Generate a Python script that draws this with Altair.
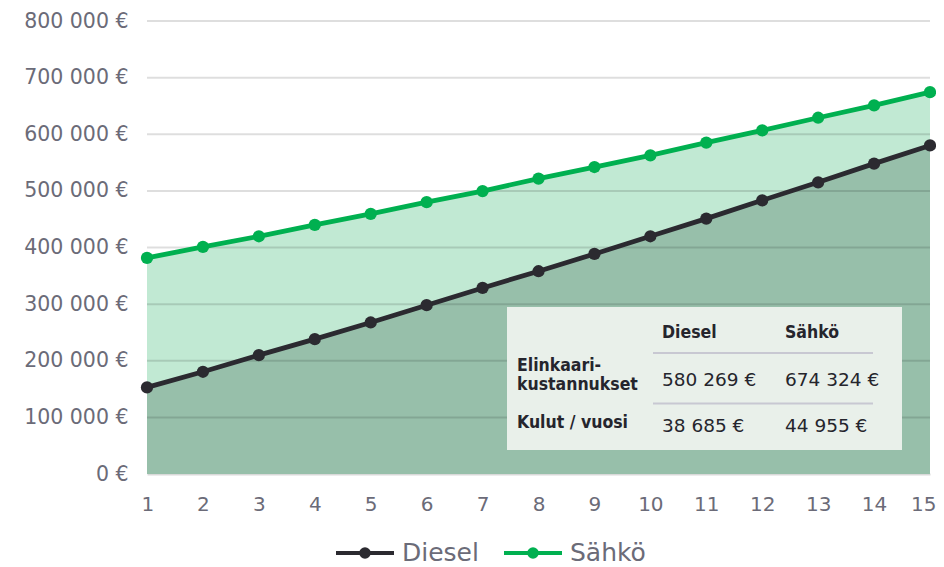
import altair as alt
import pandas as pd

years = list(range(1, 16))
diesel = [152900, 180500, 209900, 238100, 267600, 298100, 328600, 358100,
          388600, 419800, 451000, 483300, 515100, 548100, 580269]
sahko = [381600, 401000, 419800, 440000, 459500, 480000, 499700, 521600,
         542100, 562700, 585100, 606800, 629200, 650900, 674324]
series_names = ["Diesel", "Sähkö"]
y_ticks = [100000, 200000, 300000, 400000, 500000, 600000, 700000, 800000]
table_cols = ["Diesel", "Sähkö"]
row1_label = ["Elinkaari-", "kustannukset"]
row2_label = "Kulut / vuosi"
lifecycle = ["580 269 €", "674 324 €"]
per_year = ["38 685 €", "44 955 €"]

line_colors = ["#2b2a30", "#00b050"]
area_dark = "#97bfaa"
area_light = "#c1e9d3"
axis_gray = "#6b6b78"
txt_dark = "#25252d"
W, H = 783, 453

df = pd.DataFrame({
    "year": years * 2,
    "value": diesel + sahko,
    "series": [series_names[0]] * 15 + [series_names[1]] * 15,
})
df_d = df[df.series == "Diesel"]
df_s = df[df.series == "Sähkö"]

xenc = alt.X("year:Q", scale=alt.Scale(domain=[1, 15], nice=False, zero=False),
             axis=alt.Axis(values=years, format="d", title=None, ticks=False, grid=False,
                           domainColor="#d9d9d9", domainWidth=2, labelPadding=20,
                           labelFlush=True, labelFlushOffset=6, labelBound=False,
                           labelOverlap=False,
                           labelFontSize=20, labelFont="DejaVu Sans", labelColor=axis_gray))
yenc = alt.Y("value:Q", scale=alt.Scale(domain=[0, 800000], nice=False),
             axis=alt.Axis(values=[0] + y_ticks, title=None, ticks=False, domain=False, grid=False,
                           labelPadding=19, labelFontSize=20.5, labelFont="DejaVu Sans",
                           labelColor=axis_gray, labelFlush=False,
                           labelExpr="datum.value == 0 ? '0 €' : format(datum.value/1000, 'd') + ' 000 €'"))

area_s = alt.Chart(df_s).mark_area(color=area_light, opacity=1).encode(x=xenc, y=yenc)
area_d = alt.Chart(df_d).mark_area(color=area_dark, opacity=1).encode(x=xenc, y=yenc)

grid = alt.Chart(pd.DataFrame({"v": y_ticks})).mark_rule(
    color="#000000", opacity=0.13, strokeWidth=2).encode(y=alt.Y("v:Q"))

sym = ("M-1,0H1"
       "M0.13,0A0.13,0.13,0,1,1,-0.13,0A0.13,0.13,0,1,1,0.13,0"
       "M0.05,0A0.05,0.05,0,1,1,-0.05,0A0.05,0.05,0,1,1,0.05,0")

lines = alt.Chart(df).mark_line(
    strokeWidth=4.8,
    point=alt.OverlayMarkDef(size=150, filled=True, opacity=1),
).encode(
    x=xenc, y=yenc,
    color=alt.Color("series:N",
                    scale=alt.Scale(domain=series_names, range=line_colors),
                    legend=alt.Legend(orient="none", legendX=187, legendY=501,
                                      direction="horizontal", title=None,
                                      symbolType=sym, symbolSize=3364,
                                      symbolStrokeWidth=4, labelFontSize=25,
                                      labelFont="DejaVu Sans", labelColor=axis_gray,
                                      columnPadding=17, labelOffset=6, padding=0)),
    order="year:Q",
)

# table overlay
box = alt.Chart(pd.DataFrame({"a": [0]})).mark_rect(color="#e9f0ea").encode(
    x=alt.value(360), x2=alt.value(755), y=alt.value(286), y2=alt.value(429))

seps = alt.Chart(pd.DataFrame({"a": [0]})).mark_rule(color="#c8c8d2", strokeWidth=2)
sep1 = seps.encode(x=alt.value(506), x2=alt.value(726), y=alt.value(332))
sep2 = seps.encode(x=alt.value(506), x2=alt.value(726), y=alt.value(382.6))


def txt(s, x, y, bold=False, size=18.5):
    font = "DejaVu Sans Condensed, DejaVu Sans" if bold else "DejaVu Sans"
    return alt.Chart(pd.DataFrame({"t": [s]})).mark_text(
        align="left", baseline="alphabetic", font=font,
        fontWeight="bold" if bold else "normal", fontSize=size, color=txt_dark,
    ).encode(x=alt.value(x), y=alt.value(y), text="t:N")


texts = [
    txt(table_cols[0], 515, 316.6, True, 17.5),
    txt(table_cols[1], 638, 316.6, True, 17.5),
    txt(row1_label[0], 370, 350.3, True, 17.5),
    txt(row1_label[1], 370, 369.3, True, 17.5),
    txt(row2_label, 370, 407, True, 17.5),
    txt(lifecycle[0], 515, 365.3),
    txt(lifecycle[1], 638, 365.3),
    txt(per_year[0], 515, 411),
    txt(per_year[1], 638, 411),
]

chart = alt.layer(area_s, area_d, grid, lines, box, sep1, sep2, *texts).properties(
    width=W, height=H,
    autosize=alt.AutoSizeParams(type="none"),
    padding={"left": 139, "top": 13, "right": 6, "bottom": 93},
).configure_view(stroke=None)

chart.save("out.html", embed_options={"renderer": "svg", "actions": False})
